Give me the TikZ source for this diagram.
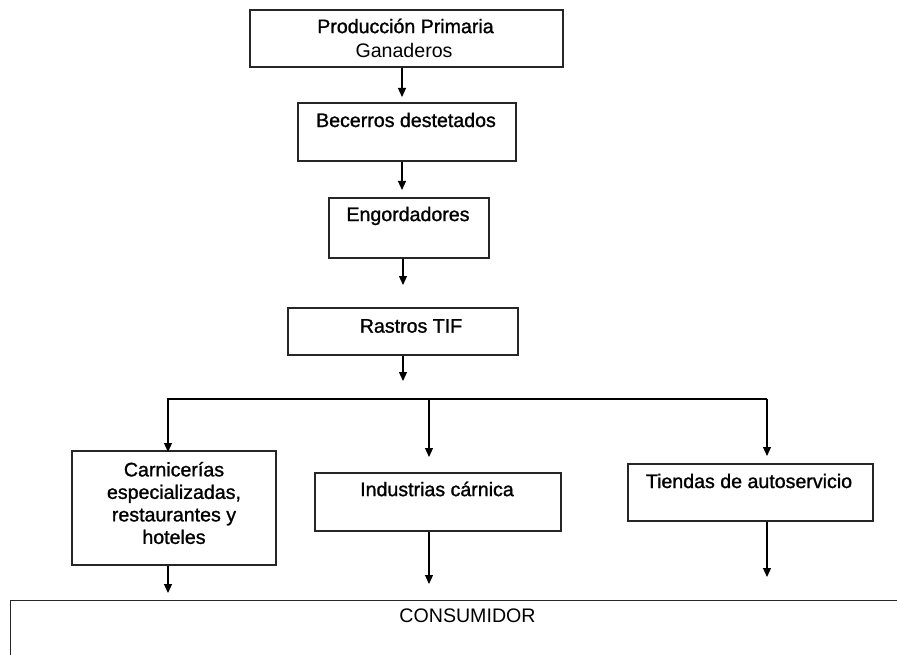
\documentclass[tikz,border=0pt]{standalone}
\usepackage{fontspec}
\setmainfont{Liberation Sans}[BoldFont=Liberation Sans,BoldFeatures={FakeBold=1.2}]
\usetikzlibrary{arrows.meta}
\begin{document}
\begin{tikzpicture}[x=1pt,y=-1pt,
  box/.style={draw=black!85,line width=1.3pt,inner sep=0pt,rectangle},
  txt/.style={inner sep=0pt,align=center,font=\fontsize{19.6}{22.5}\selectfont\bfseries},
  txtr/.style={inner sep=0pt,align=center,font=\fontsize{19.6}{22.5}\selectfont},
  arr/.style={draw=black,line width=1.1pt,-{Triangle[width=8pt,length=9pt]}},
  conn/.style={draw=black,line width=1.1pt}]
\clip (0,0) rectangle (897,655);
\fill[white] (0,0) rectangle (897,655);
% boxes
\node[box,minimum width=313pt,minimum height=57pt] (b1) at (406.5,38.5) {};
\node[box,minimum width=218pt,minimum height=58pt] (b2) at (407,132) {};
\node[box,minimum width=160pt,minimum height=60pt] (b3) at (409,228) {};
\node[box,minimum width=230pt,minimum height=47pt] (b4) at (403,331.5) {};
\node[box,minimum width=204pt,minimum height=114pt] (b5) at (174,508) {};
\node[box,minimum width=246pt,minimum height=58pt] (b6) at (438,502) {};
\node[box,minimum width=245pt,minimum height=57pt] (b7) at (750.5,492.5) {};
\node[box,minimum width=930pt,minimum height=100pt,anchor=north west] (b8) at (10,600) {};
% texts
\node[txt] (l1a) at (405.5,26) {Producción Primaria};
\node[txtr] (l1b) at (404,50) {Ganaderos};
\node[txt] (l2) at (406,120) {Becerros destetados};
\node[txt] (l3) at (408,216) {Engordadores};
\node[txt] (l4) at (411,326) {Rastros TIF};
\node[txt] (l5) at (174,503) {Carnicerías\\especializadas,\\restaurantes y\\hoteles};
\node[txt] (l6) at (437,489) {Industrias cárnica};
\node[txt] (l7) at (749,481) {Tiendas de autoservicio};
\node[txtr] (l8) at (467.5,616) {CONSUMIDOR};
% connector coordinates
\coordinate (t1) at (402,97);
\coordinate (t2) at (402,190);
\coordinate (t3) at (403,285);
\coordinate (t4) at (403,381);
\coordinate (jl) at (167,399);
\coordinate (jr) at (767,399);
\coordinate (c1) at (168,452);
\coordinate (c2) at (429,457);
\coordinate (c3) at (767,456);
\coordinate (d1) at (168,593);
\coordinate (d2) at (429,584);
\coordinate (d3) at (767,577);
% connectors
\draw[arr] (t1 |- b1.south) -- (t1);
\draw[arr] (t2 |- b2.south) -- (t2);
\draw[arr] (t3 |- b3.south) -- (t3);
\draw[arr] (t4 |- b4.south) -- (t4);
\draw[conn] (jl) -- (jr);
\draw[arr] (c1 |- jl) -- (c1);
\draw[arr] (c2 |- jl) -- (c2);
\draw[arr] (jr) -- (c3);
\draw[arr] (d1 |- b5.south) -- (d1);
\draw[arr] (d2 |- b6.south) -- (d2);
\draw[arr] (d3 |- b7.south) -- (d3);
\end{tikzpicture}
\end{document}
